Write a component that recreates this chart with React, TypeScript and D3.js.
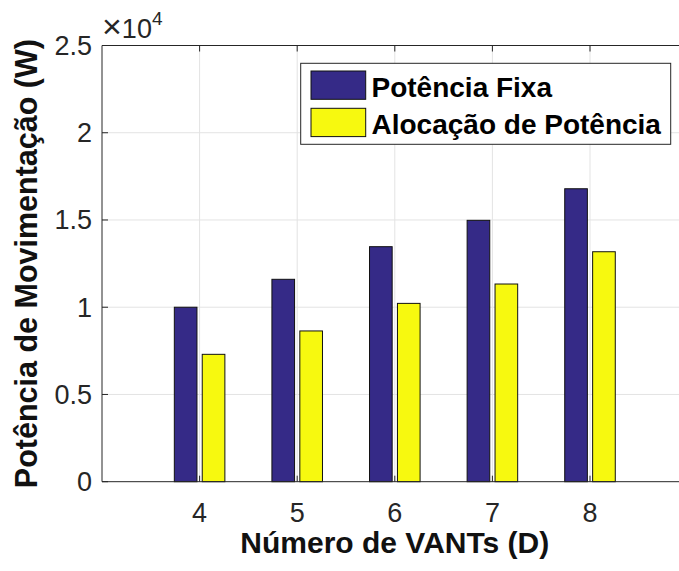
import React, { useEffect, useRef } from 'react';
import * as d3 from 'd3';

// Número de VANTs (D)
const categories = [4, 5, 6, 7, 8];
// Potência Fixa (W)
const potenciaFixa = [10000, 11600, 13470, 14980, 16790];
// Alocação de Potência (W)
const alocacao = [7300, 8640, 10220, 11330, 13180];
const yTicks = [0, 5000, 10000, 15000, 20000, 25000];
const yTickLabels = ['0', '0.5', '1', '1.5', '2', '2.5'];

const W = 679;
const H = 571;
const FONT = '"Liberation Sans", Arial, Helvetica, sans-serif';
const AX = '#262626';
const BLUE = '#352A87';
const YELLOW = '#F7F90F';

const App = () => {
  const svgRef = useRef<SVGSVGElement | null>(null);

  useEffect(() => {
    if (!svgRef.current) return;
    const svg = d3.select(svgRef.current);
    svg.selectAll('*').remove();

    const left = 102, top = 45.5, bottom = 481.7;
    const x = d3.scaleLinear().domain([3, 9]).range([left, left + 6 * 97.6]);
    const y = d3.scaleLinear().domain([0, 25000]).range([bottom, top]);
    const right = x(9);

    const barW = 0.232;
    const offset = 0.143;

    // grid
    const grid = svg.append('g').attr('stroke', '#E3E3E3').attr('stroke-width', 1);
    categories.forEach(c => {
      grid.append('line')
        .attr('x1', x(c)).attr('x2', x(c))
        .attr('y1', top).attr('y2', bottom);
    });
    yTicks.slice(1, -1).forEach(t => {
      grid.append('line')
        .attr('x1', left).attr('x2', right)
        .attr('y1', y(t)).attr('y2', y(t));
    });

    // bars
    const drawSeries = (vals: number[], dx: number, color: string) => {
      svg.append('g')
        .selectAll('rect')
        .data(vals)
        .join('rect')
        .attr('x', (d, i) => x(categories[i] + dx - barW / 2))
        .attr('width', x(barW) - x(0))
        .attr('y', d => y(d))
        .attr('height', d => y(0) - y(d))
        .attr('fill', color)
        .attr('stroke', '#111')
        .attr('stroke-width', 1);
    };
    drawSeries(potenciaFixa, -offset, BLUE);
    drawSeries(alocacao, offset, YELLOW);

    // axes box
    const box = svg.append('g').attr('stroke', AX).attr('stroke-width', 1).attr('fill', 'none');
    box.append('line').attr('x1', left).attr('x2', right).attr('y1', bottom).attr('y2', bottom);
    box.append('line').attr('x1', left).attr('x2', right).attr('y1', top).attr('y2', top);
    box.append('line').attr('x1', left).attr('x2', left).attr('y1', top).attr('y2', bottom);

    // ticks (inward)
    categories.forEach(c => {
      box.append('line').attr('x1', x(c)).attr('x2', x(c)).attr('y1', bottom).attr('y2', bottom - 6);
      box.append('line').attr('x1', x(c)).attr('x2', x(c)).attr('y1', top).attr('y2', top + 6);
    });
    yTicks.forEach(t => {
      box.append('line').attr('x1', left).attr('x2', left + 6).attr('y1', y(t)).attr('y2', y(t));
    });

    // tick labels
    svg.append('g')
      .selectAll('text')
      .data(categories)
      .join('text')
      .attr('x', d => x(d))
      .attr('y', 522)
      .attr('text-anchor', 'middle')
      .attr('fill', AX)
      .style('font-family', FONT)
      .style('font-size', '27px')
      .text(d => String(d));

    svg.append('g')
      .selectAll('text')
      .data(yTicks)
      .join('text')
      .attr('x', left - 10)
      .attr('y', d => y(d) + 9.5)
      .attr('text-anchor', 'end')
      .attr('fill', AX)
      .style('font-family', FONT)
      .style('font-size', '27px')
      .text((d, i) => yTickLabels[i]);

    // exponent
    const exp = svg.append('text')
      .attr('x', 102)
      .attr('y', 38)
      .attr('fill', AX)
      .style('font-family', FONT)
      .style('font-size', '27px');
    exp.append('tspan').style('font-size', '34px').text('×');
    exp.append('tspan').text('10');
    exp.append('tspan').attr('dy', -13).style('font-size', '19px').text('4');

    // axis labels
    svg.append('text')
      .attr('x', (left + right) / 2)
      .attr('y', 553)
      .attr('text-anchor', 'middle')
      .attr('fill', '#111')
      .style('font-family', FONT)
      .style('font-size', '30px')
      .style('font-weight', 'bold')
      .text('Número de VANTs (D)');

    svg.append('text')
      .attr('transform', `translate(37,${(top + bottom) / 2}) rotate(-90)`)
      .attr('text-anchor', 'middle')
      .attr('fill', '#111')
      .style('font-family', FONT)
      .style('font-size', '30.5px')
      .style('font-weight', 'bold')
      .text('Potência de Movimentação (W)');

    // legend
    const lg = svg.append('g');
    lg.append('rect')
      .attr('x', 300.7).attr('y', 63.3)
      .attr('width', 370).attr('height', 81)
      .attr('fill', '#fff').attr('stroke', AX).attr('stroke-width', 1);
    const items = [
      { name: 'Potência Fixa', color: BLUE },
      { name: 'Alocação de Potência', color: YELLOW }
    ];
    items.forEach((it, i) => {
      const yy = 71 + i * 37.3;
      lg.append('rect')
        .attr('x', 311).attr('y', yy)
        .attr('width', 54.7).attr('height', 28.3)
        .attr('fill', it.color).attr('stroke', '#111').attr('stroke-width', 1);
      lg.append('text')
        .attr('x', 371.5).attr('y', yy + 25.5)
        .attr('fill', '#000')
        .style('font-family', FONT)
        .style('font-size', '28px')
        .style('font-weight', 'bold')
        .text(it.name);
    });
  }, []);

  return (
    <svg
      ref={svgRef}
      width={W}
      height={H}
      style={{ position: 'absolute', left: 0, top: 0, background: '#fff', overflow: 'hidden' }}
    />
  );
};

export default App;
